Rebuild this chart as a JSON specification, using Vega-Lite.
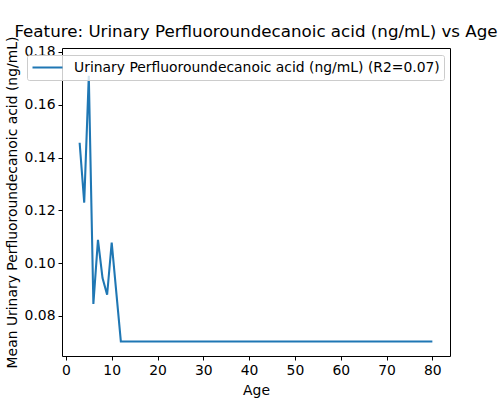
{
  "$schema": "https://vega.github.io/schema/vega-lite/v6.json",
  "width": 388,
  "height": 308,
  "autosize": "none",
  "padding": {"left": 62, "top": 48, "right": 50, "bottom": 44},
  "background": "white",
  "config": {
    "font": "DejaVu Sans",
    "view": {"stroke": "black", "strokeWidth": 1},
    "axis": {
      "grid": false,
      "domain": false,
      "tickColor": "black",
      "tickSize": 4,
      "tickWidth": 1,
      "labelFontSize": 13.9,
      "labelColor": "black",
      "titleFontSize": 13.9,
      "titleColor": "black",
      "titleFontWeight": "normal",
      "labelFont": "DejaVu Sans",
      "titleFont": "DejaVu Sans"
    }
  },
  "title": {
    "text": "Feature: Urinary Perfluoroundecanoic acid (ng/mL) vs Age",
    "fontSize": 16.7,
    "fontWeight": "normal",
    "font": "DejaVu Sans",
    "color": "black",
    "offset": -5,
    "anchor": "middle"
  },
  "data": {
    "values": [
      {"Age": 3, "value": 0.1456, "series": "Urinary Perfluoroundecanoic acid (ng/mL) (R2=0.07)"},
      {"Age": 4, "value": 0.1229, "series": "Urinary Perfluoroundecanoic acid (ng/mL) (R2=0.07)"},
      {"Age": 5, "value": 0.1710, "series": "Urinary Perfluoroundecanoic acid (ng/mL) (R2=0.07)"},
      {"Age": 6, "value": 0.0845, "series": "Urinary Perfluoroundecanoic acid (ng/mL) (R2=0.07)"},
      {"Age": 7, "value": 0.1088, "series": "Urinary Perfluoroundecanoic acid (ng/mL) (R2=0.07)"},
      {"Age": 8, "value": 0.0943, "series": "Urinary Perfluoroundecanoic acid (ng/mL) (R2=0.07)"},
      {"Age": 9, "value": 0.0880, "series": "Urinary Perfluoroundecanoic acid (ng/mL) (R2=0.07)"},
      {"Age": 10, "value": 0.1078, "series": "Urinary Perfluoroundecanoic acid (ng/mL) (R2=0.07)"},
      {"Age": 11, "value": 0.0890, "series": "Urinary Perfluoroundecanoic acid (ng/mL) (R2=0.07)"},
      {"Age": 12, "value": 0.0703, "series": "Urinary Perfluoroundecanoic acid (ng/mL) (R2=0.07)"},
      {"Age": 20, "value": 0.0703, "series": "Urinary Perfluoroundecanoic acid (ng/mL) (R2=0.07)"},
      {"Age": 30, "value": 0.0703, "series": "Urinary Perfluoroundecanoic acid (ng/mL) (R2=0.07)"},
      {"Age": 40, "value": 0.0703, "series": "Urinary Perfluoroundecanoic acid (ng/mL) (R2=0.07)"},
      {"Age": 50, "value": 0.0703, "series": "Urinary Perfluoroundecanoic acid (ng/mL) (R2=0.07)"},
      {"Age": 60, "value": 0.0703, "series": "Urinary Perfluoroundecanoic acid (ng/mL) (R2=0.07)"},
      {"Age": 70, "value": 0.0703, "series": "Urinary Perfluoroundecanoic acid (ng/mL) (R2=0.07)"},
      {"Age": 80, "value": 0.0703, "series": "Urinary Perfluoroundecanoic acid (ng/mL) (R2=0.07)"}
    ]
  },
  "mark": {"type": "line", "strokeWidth": 2.08, "clip": true},
  "encoding": {
    "x": {
      "field": "Age",
      "type": "quantitative",
      "scale": {"domain": [-0.85, 83.85], "nice": false, "zero": false},
      "axis": {"values": [0, 10, 20, 30, 40, 50, 60, 70, 80], "title": "Age", "titlePadding": 7, "labelPadding": 3}
    },
    "y": {
      "field": "value",
      "type": "quantitative",
      "scale": {"domain": [0.0648, 0.1815], "nice": false, "zero": false},
      "axis": {"values": [0.08, 0.1, 0.12, 0.14, 0.16, 0.18], "format": ".2f", "title": "Mean Urinary Perfluoroundecanoic acid (ng/mL)", "titlePadding": 5, "labelPadding": 3}
    },
    "color": {
      "field": "series",
      "type": "nominal",
      "scale": {"range": ["#1f77b4"]},
      "legend": {
        "title": null,
        "orient": "none",
        "legendX": -35,
        "legendY": 7,
        "symbolType": "stroke",
        "symbolSize": 900,
        "symbolStrokeWidth": 2.08,
        "clipHeight": 17,
        "labelFontSize": 13.9,
        "labelColor": "black",
        "labelFont": "DejaVu Sans",
        "labelLimit": 0,
        "fillColor": "rgba(255,255,255,0.8)",
        "strokeColor": "#cccccc",
        "cornerRadius": 2,
        "padding": 4,
        "labelOffset": 10
      }
    }
  }
}
